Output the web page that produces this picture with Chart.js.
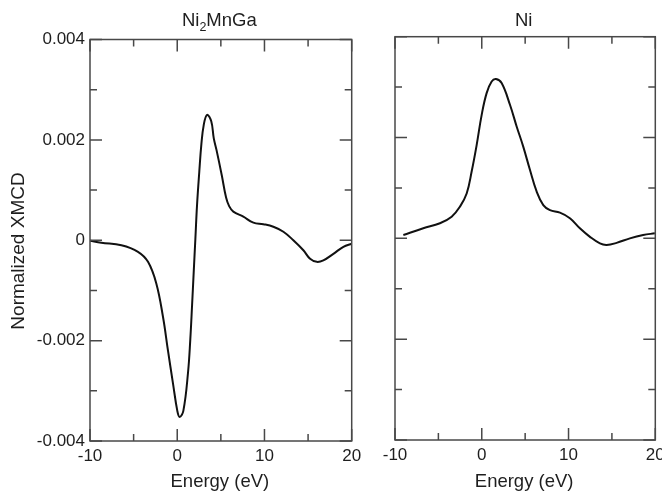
<!DOCTYPE html>
<html>
<head>
<meta charset="utf-8">
<title>XMCD spectra</title>
<script src="https://cdn.jsdelivr.net/npm/chart.js@4/dist/chart.umd.min.js"></script>
<style>
  html, body { margin: 0; padding: 0; background: #fff; }
  body { position: relative; width: 662px; height: 494px; overflow: hidden; }
  canvas { position: absolute; top: 0; }
  #left { left: 0; }
  #right { left: 375px; }
</style>
</head>
<body>
<canvas id="left" width="375" height="494"></canvas>
<canvas id="right" width="300" height="494"></canvas>
<script>
// Ni2MnGa spectrum: energy (eV) and normalized XMCD
const ni2mngaEnergy = [-10, -8.7, -6.4, -4.5, -3.35, -2.4, -1.63, -1.06, -0.48, 0.01, 0.27, 0.7, 1.24, 1.5, 1.7, 1.89, 2.08, 2.27, 2.53, 2.76, 3.04, 3.42, 3.9, 4.19, 4.5, 5.1, 5.6, 5.95, 6.43, 7.58, 8.73, 9.87, 11.02, 12.17, 13.31, 14.46, 15.23, 16.0, 16.75, 17.9, 19.05, 20];
const ni2mngaXmcd = [-0.00001, -0.00005, -0.0001, -0.00023, -0.00043, -0.00086, -0.00153, -0.0022, -0.00286, -0.0034, -0.00352, -0.0034, -0.00263, -0.00197, -0.0013, -0.00063, 0.00003, 0.0007, 0.00137, 0.0019, 0.0023, 0.0025, 0.00237, 0.00203, 0.0018, 0.0013, 0.00085, 0.00068, 0.00057, 0.00047, 0.00035, 0.00032, 0.00027, 0.00017, 0.0, -0.0002, -0.00037, -0.00043, -0.0004, -0.00027, -0.00013, -0.00007];

// Ni spectrum: energy (eV) and normalized XMCD
const niEnergy = [-9.04, -6.74, -4.82, -3.47, -2.51, -1.74, -1.16, -0.59, -0.01, 0.56, 1.14, 1.64, 2.29, 3.25, 4.02, 4.78, 5.55, 6.32, 7.09, 7.86, 9.01, 10.16, 11.31, 12.47, 13.62, 14.39, 15.54, 17.07, 18.6, 19.95];
const niXmcd = [0.000066, 0.0002, 0.0003, 0.00043, 0.00063, 0.00089, 0.00133, 0.00185, 0.00245, 0.00288, 0.00311, 0.00316, 0.00308, 0.00265, 0.00222, 0.00182, 0.00136, 0.00093, 0.00066, 0.00056, 0.00051, 0.0004, 0.0002, 0.00003, -0.0001, -0.00013, -0.00009, 0.0, 0.000066, 0.0001];

// Axis ticks
const xTickValues = [-10, 0, 10, 20];
const xTickLabels = ['-10', '0', '10', '20'];
const xMinorValues = [-5, 5, 15];
const yTickValues = [-0.004, -0.002, 0, 0.002, 0.004];
const yTickLabels = ['-0.004', '-0.002', '0', '0.002', '0.004'];
const yMinorValues = [-0.003, -0.001, 0.001, 0.003];

const FONT = '"Liberation Sans", Arial, Helvetica, sans-serif';
const TEXT = '#1e1e1e';

function points(xs, ys) {
  return xs.map((e, i) => ({ x: e, y: ys[i] }));
}

// Box frame with inward major/minor ticks on all four sides
const frameTicks = {
  id: 'frameTicks',
  afterDatasetsDraw(chart) {
    const { ctx, chartArea: a, scales: { x, y } } = chart;
    ctx.save();
    ctx.strokeStyle = '#484848';
    ctx.lineWidth = 1.5;
    ctx.strokeRect(a.left, a.top, a.right - a.left, a.bottom - a.top);
    ctx.beginPath();
    const tickX = (v, len) => {
      const p = x.getPixelForValue(v);
      ctx.moveTo(p, a.bottom); ctx.lineTo(p, a.bottom - len);
      ctx.moveTo(p, a.top); ctx.lineTo(p, a.top + len);
    };
    const tickY = (v, len) => {
      const p = y.getPixelForValue(v);
      ctx.moveTo(a.left, p); ctx.lineTo(a.left + len, p);
      ctx.moveTo(a.right, p); ctx.lineTo(a.right - len, p);
    };
    xTickValues.forEach(v => tickX(v, 12));
    xMinorValues.forEach(v => tickX(v, 7));
    yTickValues.forEach(v => tickY(v, 12));
    yMinorValues.forEach(v => tickY(v, 7));
    ctx.stroke();
    ctx.restore();
  }
};

// Panel title (with optional subscript) and axis titles
function panelText(title, showYTitle) {
  return {
    id: 'panelText',
    afterDraw(chart) {
      const { ctx, chartArea: a } = chart;
      const cx = (a.left + a.right) / 2 - 1.5;
      ctx.save();
      ctx.fillStyle = TEXT;
      ctx.textBaseline = 'alphabetic';
      ctx.textAlign = 'left';
      const big = '18.5px ' + FONT, small = '12.5px ' + FONT;
      let w = 0;
      title.forEach(p => { ctx.font = p.sub ? small : big; w += ctx.measureText(p.t).width; });
      let px = cx - w / 2;
      title.forEach(p => {
        ctx.font = p.sub ? small : big;
        ctx.fillText(p.t, px, p.sub ? 31 : 26);
        px += ctx.measureText(p.t).width;
      });
      // x-axis title
      ctx.font = big;
      ctx.textAlign = 'center';
      ctx.textBaseline = 'middle';
      ctx.fillText('Energy (eV)', (a.left + a.right) / 2 - 1, 482);
      if (showYTitle) {
        ctx.font = '19px ' + FONT;
        ctx.translate(18.5, 251);
        ctx.rotate(-Math.PI / 2);
        ctx.fillText('Normalized XMCD', 0, 0);
      }
      ctx.restore();
    }
  };
}

function makeChart(id, data, opts) {
  const ctx = document.getElementById(id);
  return new Chart(ctx, {
    type: 'line',
    data: {
      datasets: [{
        data: data,
        borderColor: '#111',
        borderWidth: 2,
        pointRadius: 0,
        fill: false,
        tension: 0.4
      }]
    },
    options: {
      responsive: false,
      animation: false,
      devicePixelRatio: 1,
      layout: { padding: { top: opts.top, right: opts.right, left: 0, bottom: 0 } },
      plugins: { legend: { display: false }, tooltip: { enabled: false }, title: { display: false } },
      scales: {
        x: {
          type: 'linear',
          min: -10,
          max: 20,
          afterBuildTicks: s => { s.ticks = xTickValues.map(v => ({ value: v })); },
          afterFit: s => { s.height = 494 - opts.bottom; },
          grid: { display: false, drawTicks: false },
          border: { display: false },
          ticks: {
            autoSkip: false,
            maxRotation: 0,
            padding: 5,
            color: TEXT,
            font: { family: FONT, size: 17 },
            callback: (v, i) => xTickLabels[i]
          }
        },
        y: {
          type: 'linear',
          min: -0.004,
          max: 0.004,
          afterBuildTicks: s => { s.ticks = yTickValues.map(v => ({ value: v })); },
          afterFit: s => { s.width = opts.yWidth; },
          grid: { display: false, drawTicks: false },
          border: { display: false },
          ticks: {
            display: opts.yLabels,
            padding: 5,
            color: TEXT,
            font: { family: FONT, size: 17 },
            callback: (v, i) => yTickLabels[i]
          }
        }
      }
    },
    plugins: [frameTicks, panelText(opts.title, opts.yLabels)]
  });
}

makeChart('left', points(ni2mngaEnergy, ni2mngaXmcd), {
  top: 39.5, right: 375 - 351.7, bottom: 441, yWidth: 90, yLabels: true,
  title: [{ t: 'Ni' }, { t: '2', sub: true }, { t: 'MnGa' }]
});

makeChart('right', points(niEnergy, niXmcd), {
  top: 36.7, right: 300 - 280.3, bottom: 440, yWidth: 20, yLabels: false,
  title: [{ t: 'Ni' }]
});
</script>
</body>
</html>
